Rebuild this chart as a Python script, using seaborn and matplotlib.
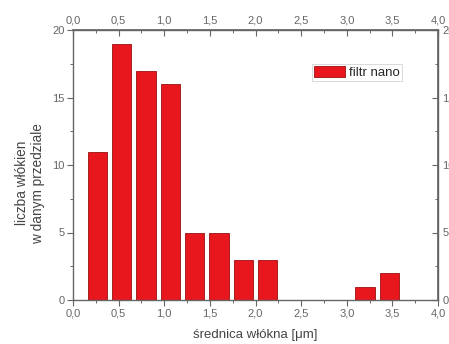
import matplotlib
matplotlib.use("Agg")
import matplotlib.pyplot as plt
import matplotlib.ticker as mticker
import seaborn as sns
import pandas as pd

# Data
centers = [0.267, 0.533, 0.8, 1.067, 1.333, 1.6, 1.867, 2.133, 3.2, 3.467]
counts = [11, 19, 17, 16, 5, 5, 3, 3, 1, 2]
series_name = "filtr nano"
xlabel = "średnica włókna [μm]"
ylabel = "liczba włókien\nw danym przedziale"
xticks = [0.0, 0.5, 1.0, 1.5, 2.0, 2.5, 3.0, 3.5, 4.0]
yticks = [0, 5, 10, 15, 20]

sns.set_theme(style="white")
plt.rcParams['font.family'] = ['Liberation Sans', 'DejaVu Sans']

df = pd.DataFrame({"x": centers, "y": counts, "s": series_name})

fig = plt.figure(figsize=(4.49, 3.44), dpi=100)
ax = fig.add_axes([73/449, 1 - 300/344, (438-73)/449, (300-30)/344])

sns.barplot(data=df, x="x", y="y", hue="s", native_scale=True, width=0.8,
            palette=["#e8161d"], edgecolor="#9a1010", linewidth=0.6,
            saturation=1, ax=ax, legend=True)

ax.set_xlim(0, 4)
ax.set_ylim(0, 20)
ax.set_xticks(xticks)
ax.set_yticks(yticks)
ax.xaxis.set_minor_locator(mticker.MultipleLocator(0.25))
ax.yaxis.set_minor_locator(mticker.MultipleLocator(2.5))
fmt = mticker.FuncFormatter(lambda v, p: f"{v:.1f}".replace(".", ","))
ax.xaxis.set_major_formatter(fmt)
ax.yaxis.set_major_formatter(mticker.FuncFormatter(lambda v, p: f"{int(v)}"))

axis_color = "#666666"
label_color = "#666666"
for sp in ax.spines.values():
    sp.set_visible(True)
    sp.set_color(axis_color)
    sp.set_linewidth(1.0)

ax.tick_params(which="major", direction="out", length=4, width=0.8,
               color=axis_color, labelsize=8, labelcolor=label_color, pad=2,
               bottom=True, left=True)
ax.tick_params(which="minor", direction="out", length=2, width=0.7,
               color=axis_color, bottom=True, left=True)

top = ax.secondary_xaxis("top")
top.set_xticks(xticks)
top.xaxis.set_minor_locator(mticker.MultipleLocator(0.25))
top.xaxis.set_major_formatter(fmt)
top.tick_params(which="major", direction="in", length=4, width=0.8,
                color=axis_color, labelsize=8, labelcolor=label_color, pad=3)
top.tick_params(which="minor", direction="in", length=2, width=0.7, color=axis_color)
top.spines["top"].set_color(axis_color)

right = ax.secondary_yaxis("right")
right.set_yticks(yticks)
right.yaxis.set_minor_locator(mticker.MultipleLocator(2.5))
right.tick_params(which="major", direction="in", length=4, width=0.8,
                  color=axis_color, labelsize=8, labelcolor=label_color, pad=3)
right.tick_params(which="minor", direction="in", length=2, width=0.7, color=axis_color)
right.spines["right"].set_color(axis_color)

ax.set_xlabel(xlabel, fontsize=9.5, color="#444444")
ax.xaxis.set_label_coords(0.50, -0.108)
ax.set_ylabel(ylabel, fontsize=9.8, color="#444444", linespacing=1.15)
ax.yaxis.set_label_coords(-0.077, 0.433)

leg = ax.legend(loc="center", bbox_to_anchor=(0.779, 0.843), fontsize=9.5,
                frameon=True, fancybox=False, edgecolor="#c8c8c8",
                handlelength=2.35, handleheight=0.9, borderpad=0.15,
                handletextpad=0.3, borderaxespad=0)
leg.get_frame().set_linewidth(0.6)

fig.savefig("out.png", dpi=100)
